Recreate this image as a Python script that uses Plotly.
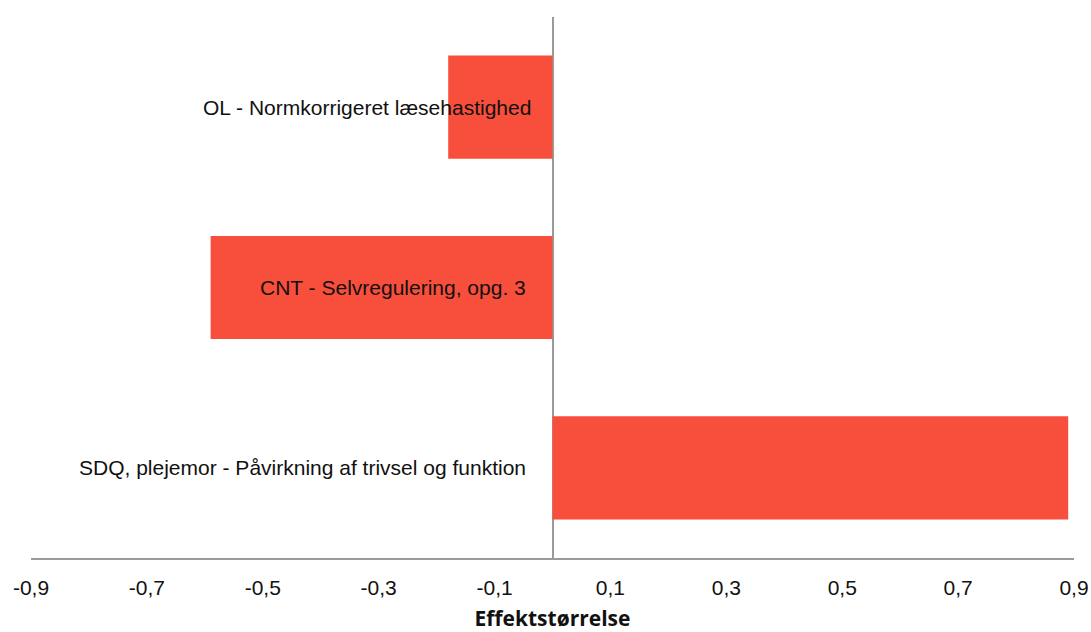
import plotly.graph_objects as go

# Outcome measures and their effect sizes
measures = [
    "OL - Normkorrigeret læsehastighed",
    "CNT - Selvregulering, opg. 3",
    "SDQ, plejemor - Påvirkning af trivsel og funktion",
]
effect_sizes = [-0.18, -0.59, 0.89]
label_offsets = [-20, -25, -25]

tick_values = [-0.9, -0.7, -0.5, -0.3, -0.1, 0.1, 0.3, 0.5, 0.7, 0.9]
tick_labels = ["-0,9", "-0,7", "-0,5", "-0,3", "-0,1", "0,1", "0,3", "0,5", "0,7", "0,9"]

BAR_COLOR = "#F84E3C"
AXIS_COLOR = "#9A9A9A"
TEXT_FONT = "Liberation Sans, Arial, sans-serif"

fig = go.Figure(
    go.Bar(
        x=effect_sizes,
        y=measures,
        orientation="h",
        width=0.572,
        marker=dict(color=BAR_COLOR, line=dict(width=0)),
        hoverinfo="x+y",
    )
)

# Category names are written next to the zero line, over the bars
for name, off in zip(measures, label_offsets):
    fig.add_annotation(
        x=0, y=name, xref="x", yref="y",
        text=name, showarrow=False,
        xanchor="right", yanchor="middle", xshift=off,
        font=dict(family=TEXT_FONT, size=21, color="#111111"),
    )

fig.update_layout(
    width=1091, height=632,
    margin=dict(l=31, r=17, t=17, b=74, autoexpand=False),
    paper_bgcolor="white", plot_bgcolor="white",
    showlegend=False,
    font=dict(family=TEXT_FONT, size=21, color="#111111"),
    xaxis=dict(
        range=[-0.9, 0.9],
        automargin=False,
        tickvals=tick_values, ticktext=tick_labels,
        showgrid=False,
        zeroline=True, zerolinecolor=AXIS_COLOR, zerolinewidth=1.5,
        showline=True, linecolor=AXIS_COLOR, linewidth=1.5,
        ticks="", ticklabelstandoff=10,
        tickfont=dict(family=TEXT_FONT, size=21, color="#111111"),
        title=dict(
            text="<b>Effektstørrelse</b>",
            font=dict(family="Open Sans, sans-serif", size=21, color="#111111"),
            standoff=15,
        ),
    ),
    yaxis=dict(
        categoryorder="array", categoryarray=measures,
        range=[2.5, -0.5],
        automargin=False,
        showticklabels=False, showgrid=False, zeroline=False,
        showline=False, ticks="",
    ),
)

fig.write_html("out.html")
